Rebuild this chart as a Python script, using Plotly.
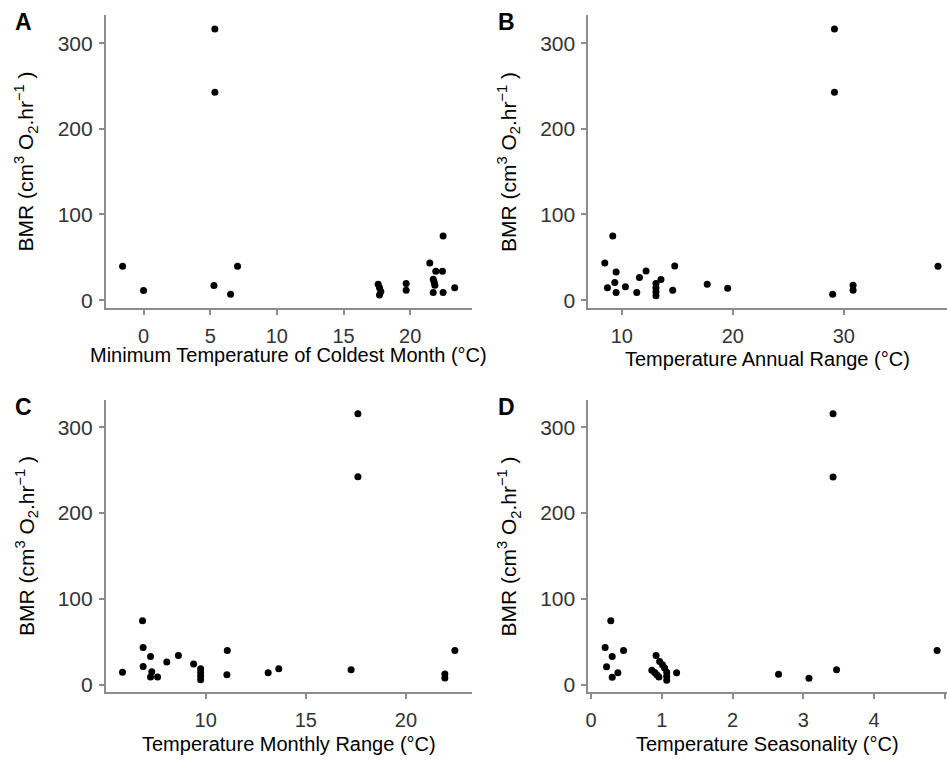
import plotly.graph_objects as go

# panel A: minimum temperature of coldest month
a_x = [-1.57, 0.0, 5.35, 5.35, 5.28, 6.53, 7.05,
       17.6, 17.7, 17.8, 17.7, 19.7, 19.7,
       22.47, 21.47, 21.92, 22.42, 21.73, 21.8, 21.85, 21.73, 22.47, 23.34]
a_y = [39.5, 11.2, 316.7, 242.7, 17.0, 7.0, 39.5,
       18.5, 14.5, 10.0, 6.0, 19.4, 11.6,
       74.8, 43.4, 33.7, 33.7, 24.4, 21.0, 17.4, 9.0, 9.0, 14.4]

# panel B: temperature annual range
b_x = [29.16, 29.16, 29.0, 30.84, 30.84, 38.49,
       13.08, 13.08, 13.08, 13.08, 13.53, 12.19, 11.59, 11.35, 10.33,
       9.49, 9.37, 9.49, 8.71, 8.47, 9.19, 14.77, 14.59, 17.7, 19.54]
b_y = [316.7, 242.7, 7.0, 17.5, 11.5, 39.5,
       19.4, 14.4, 9.8, 5.1, 24.0, 34.1, 26.4, 8.9, 15.5,
       8.9, 20.5, 33.0, 14.4, 43.4, 74.8, 40.0, 11.6, 18.6, 13.9]

# panel C: temperature monthly range
c_x = [17.6, 17.6, 17.26, 22.44, 21.94, 21.94,
       5.85, 6.85, 6.88, 6.88, 7.25, 7.31, 7.25, 7.6, 8.06, 8.64, 9.4,
       9.75, 9.75, 9.75, 9.75, 11.08, 11.06, 13.12, 13.65]
c_y = [315.8, 242.5, 17.4, 39.8, 12.4, 7.7,
       14.3, 74.5, 43.2, 21.2, 32.8, 15.0, 8.9, 8.9, 26.3, 34.0, 24.0,
       18.5, 14.3, 10.0, 5.8, 39.8, 11.6, 13.9, 18.5]

# panel D: temperature seasonality
d_x = [3.42, 3.42, 3.47, 3.08, 2.65, 4.89,
       0.28, 0.2, 0.46, 0.3, 0.22, 0.38, 0.3,
       0.92, 0.97, 1.01, 1.04, 1.07, 1.07, 1.07,
       0.86, 0.9, 0.93, 0.96, 1.21]
d_y = [315.8, 242.0, 17.4, 7.3, 12.0, 39.8,
       74.5, 43.2, 39.8, 32.8, 20.8, 13.9, 8.5,
       34.0, 27.0, 23.2, 19.3, 14.3, 9.7, 5.0,
       16.7, 14.0, 11.5, 8.9, 13.9]

x_titles = ["Minimum Temperature of Coldest Month (°C)",
            "Temperature Annual Range (°C)",
            "Temperature Monthly Range (°C)",
            "Temperature Seasonality (°C)"]
panel_labels = ["A", "B", "C", "D"]
y_title = "BMR (cm<sup>3</sup> O<sub>2</sub>.hr<sup>−1</sup> )"

W, H = 947, 760
FONT = "Liberation Sans, Arial, sans-serif"

# pixel boxes of each panel: left, right, top, bottom
boxes = [(103, 470, 15, 310), (587, 947, 15, 310),
         (103, 470, 402, 696), (587, 947, 402, 696)]
x_ranges = [[-2.84, 24.6], [6.97, 39.3], [5.01, 23.27], [-0.04, 5.03]]
y_ranges = [[-9.6, 333], [-9.6, 333], [-9.0, 332], [-9.0, 332]]
x_dticks = [5, 10, 5, 1]
xtitle_y = [357, 361, 748, 748]

data = [(a_x, a_y), (b_x, b_y), (c_x, c_y), (d_x, d_y)]

fig = go.Figure()
annotations = []
for i, (xs, ys) in enumerate(data):
    n = "" if i == 0 else str(i + 1)
    fig.add_trace(go.Scatter(x=xs, y=ys, mode="markers",
                             marker=dict(color="black", size=7),
                             xaxis="x" + n, yaxis="y" + n, showlegend=False,
                             cliponaxis=False))
    l, r, t, b = boxes[i]
    axis_common = dict(showline=True, linecolor="#8c8c8c", linewidth=1.5,
                       ticks="outside", ticklen=5, tickcolor="#8c8c8c", tickwidth=1.5,
                       showgrid=False, zeroline=False)
    fig.update_layout(**{
        "xaxis" + n: dict(domain=[l / W, r / W], range=x_ranges[i], dtick=x_dticks[i],
                          anchor="y" + n, ticklabelstandoff=4,
                          tickfont=dict(family=FONT, size=20, color="#333333"),
                          **axis_common),
        "yaxis" + n: dict(domain=[1 - b / H, 1 - t / H], range=y_ranges[i],
                          tickvals=[0, 100, 200, 300], ticklabelstandoff=2,
                          tickfont=dict(family=FONT, size=21, color="#333333"),
                          anchor="x" + n, **axis_common),
    })
    # x-axis title
    annotations.append(dict(text=x_titles[i], xref="paper", yref="paper",
                            x=(l + min(r, l + 367)) / 2 / W, y=1 - xtitle_y[i] / H,
                            showarrow=False, xanchor="center", yanchor="middle",
                            font=dict(family=FONT, size=20, color="black")))
    # y-axis title
    annotations.append(dict(text=y_title, xref="paper", yref="paper",
                            x=(l - 80) / W, y=1 - ((t + b) / 2) / H,
                            showarrow=False, textangle=-90,
                            xanchor="center", yanchor="middle",
                            font=dict(family=FONT, size=21, color="black")))
    # panel letter
    annotations.append(dict(text="<b>" + panel_labels[i] + "</b>", xref="paper", yref="paper",
                            x=(l - 82) / W, y=1 - (t + 7) / H,
                            showarrow=False, xanchor="center", yanchor="middle",
                            font=dict(family=FONT, size=23, color="black")))

fig.update_layout(width=W, height=H, margin=dict(l=0, r=0, t=0, b=0),
                  paper_bgcolor="white", plot_bgcolor="white",
                  annotations=annotations)

fig.write_html("out.html", config={"displayModeBar": False},
               post_script="document.body.style.margin='0';")
